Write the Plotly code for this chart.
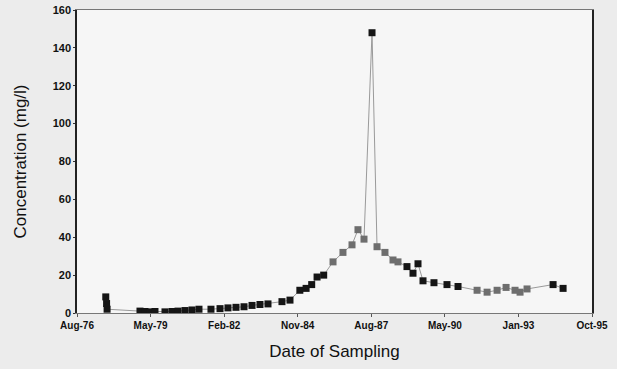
import plotly.graph_objects as go
from datetime import date, timedelta

# black squares
darkDates = ["1977-09-20", "1977-10-01", "1977-10-08",
             "1978-12-29", "1979-03-07", "1979-05-14", "1979-07-21",
             "1979-12-04", "1980-03-08", "1980-05-29", "1980-09-01", "1980-12-05", "1981-03-10",
             "1981-08-20", "1981-12-21", "1982-04-08", "1982-07-26", "1982-11-12", "1983-03-01",
             "1983-06-17", "1983-10-04", "1984-04-11", "1984-07-29",
             "1984-12-10", "1985-03-05", "1985-05-20", "1985-08-01", "1985-10-30",
             "1987-08-18",
             "1988-12-05", "1989-02-25", "1989-05-04", "1989-07-11", "1989-12-07",
             "1990-06-02", "1990-10-30", "1994-05-14", "1994-09-27"]
darkConc = [8.5, 5.0, 2.0,
            1.0, 0.8, 0.6, 0.8,
            0.6, 0.8, 1.0, 1.3, 1.6, 2.0,
            2.0, 2.3, 2.7, 3.0, 3.3, 4.0,
            4.5, 4.8, 6.0, 6.8,
            12.0, 13.0, 15.0, 19.0, 20.0,
            148.0,
            24.5, 21.0, 26.0, 17.0, 16.0,
            15.0, 14.0, 15.0, 13.0]

# grey squares
greyDates = ["1986-03-06", "1986-07-19", "1986-11-19", "1987-02-08", "1987-05-01",
             "1987-10-25", "1988-02-10", "1988-05-29", "1988-08-05",
             "1991-07-16", "1991-11-29", "1992-04-13", "1992-08-13", "1992-12-13",
             "1993-02-19", "1993-05-25"]
greyConc = [27.0, 32.0, 36.0, 44.0, 39.0,
            35.0, 32.0, 28.0, 27.0,
            12.0, 11.0, 12.0, 13.5, 12.0,
            11.0, 12.7]

# ticks every 1000 days from Aug-76
start = date(1976, 8, 25)
tickDates = [start + timedelta(days=1000 * i) for i in range(8)]

allPts = sorted(zip(darkDates + greyDates, darkConc + greyConc))
lineX = [p[0] for p in allPts]
lineY = [p[1] for p in allPts]

fig = go.Figure()
fig.add_trace(go.Scatter(x=lineX, y=lineY, mode="lines",
                         line=dict(color="#9a9a9a", width=1), showlegend=False))
fig.add_trace(go.Scatter(x=greyDates, y=greyConc, mode="markers",
                         marker=dict(symbol="square", size=7, color="#6e6e6e"), showlegend=False))
fig.add_trace(go.Scatter(x=darkDates, y=darkConc, mode="markers",
                         marker=dict(symbol="square", size=7, color="#151515"), showlegend=False))

fig.update_layout(
    width=617, height=369,
    margin=dict(l=77, r=25, t=10, b=56),
    paper_bgcolor="#ececec", plot_bgcolor="#f6f6f6",
    font=dict(family="Liberation Sans, Arial, sans-serif", color="#111111"),
)
fig.update_xaxes(
    range=[tickDates[0], tickDates[-1]], automargin=False,
    tickvals=tickDates, tickformat="%b-%y",
    tickfont=dict(size=10, weight="bold"), ticks="outside", ticklen=3, tickcolor="#555",
    showgrid=False, zeroline=False, showline=True, linecolor="#777", linewidth=1, mirror=True,
    title=dict(text="Date of Sampling", font=dict(size=17), standoff=15),
)
fig.update_yaxes(
    range=[0, 160], dtick=20, automargin=False,
    tickfont=dict(size=11, weight="bold"), ticks="outside", ticklen=2, tickcolor="#333",
    showgrid=False, zeroline=False, showline=True, linecolor="#222", linewidth=1.5, mirror=True,
    title=dict(text="Concentration (mg/l)", font=dict(size=17), standoff=22),
)
fig.write_html("out.html", config={"displayModeBar": False},
               post_script="document.body.style.margin='0';")
